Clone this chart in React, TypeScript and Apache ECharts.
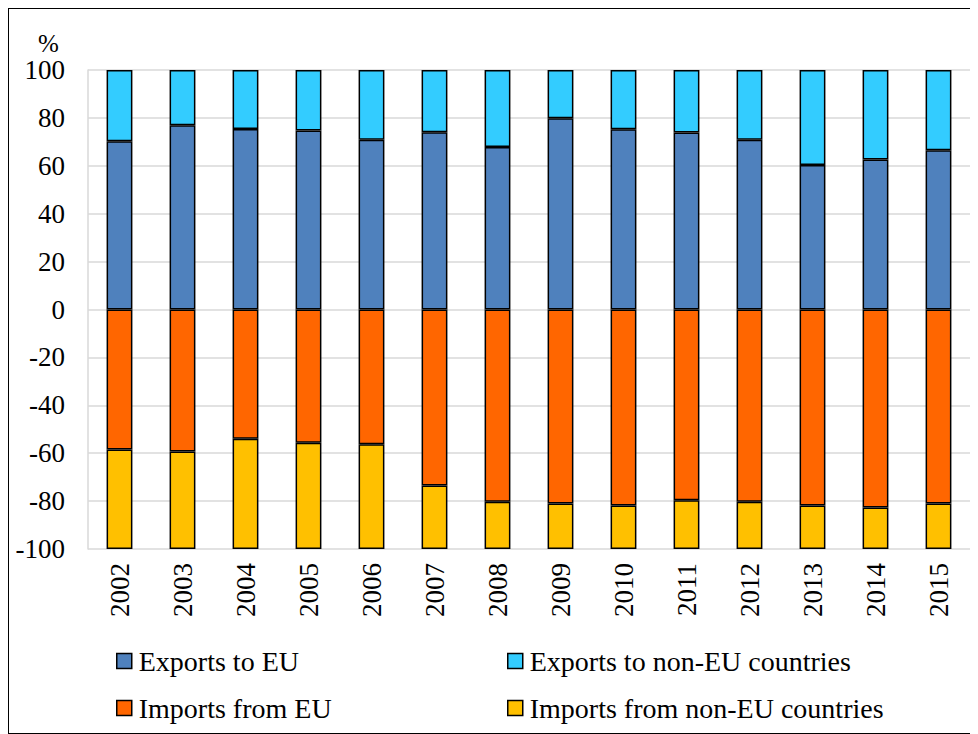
import React, { useEffect, useRef } from "react";
import * as echarts from "echarts";

const years = ["2002","2003","2004","2005","2006","2007","2008","2009","2010","2011","2012","2013","2014","2015"];
const exportsEU = [70.2, 76.9, 75.4, 74.7, 70.9, 74.0, 67.8, 79.9, 75.3, 73.9, 70.9, 60.3, 62.6, 66.5];
const exportsNonEU = [29.8, 23.1, 24.6, 25.3, 29.1, 26.0, 32.2, 20.1, 24.7, 26.1, 29.1, 39.7, 37.4, 33.5];
const importsEU = [-58.5, -59.3, -54.0, -55.6, -56.3, -73.5, -80.3, -81.0, -81.8, -79.6, -80.3, -81.8, -82.7, -81.0];
const importsNonEU = [-41.5, -40.7, -46.0, -44.4, -43.7, -26.5, -19.7, -19.0, -18.2, -20.4, -19.7, -18.2, -17.3, -19.0];
const yTicks = [-100, -80, -60, -40, -20, 0, 20, 40, 60, 80, 100];

const names = ["Exports to EU", "Exports to non-EU countries", "Imports from EU", "Imports from non-EU countries"];
const colors = ["#4f81bd", "#33ccff", "#ff6600", "#ffc000"];
const FONT = "Liberation Serif, DejaVu Serif, serif";

export default function App() {
  const ref = useRef<HTMLDivElement>(null);
  useEffect(() => {
    const chart = echarts.init(ref.current!, null, { renderer: "svg" });
    const datas = [exportsEU, exportsNonEU, importsEU, importsNonEU];
    const legendPos = [
      { left: 107, top: 638 },
      { left: 498, top: 638 },
      { left: 107, top: 685 },
      { left: 498, top: 685 },
    ];
    chart.setOption({
      animation: false,
      textStyle: { fontFamily: FONT },
      grid: { left: 79, right: 7, top: 61, bottom: 184, containLabel: false },
      legend: names.map((n, i) => ({
        data: [n],
        left: legendPos[i].left,
        top: legendPos[i].top,
        padding: 0,
        itemWidth: 15,
        itemHeight: 15,
        icon: "rect",
        itemStyle: { borderColor: "#000", borderWidth: 1.5 },
        textStyle: { fontFamily: FONT, fontSize: 28, color: "#000", padding: [0, 0, 0, 2] },
        selectedMode: false,
      })),
      graphic: [
        { type: "text", left: 29, top: 22, style: { text: "%", fontFamily: FONT, fontSize: 25, fill: "#000" } },
      ],
      xAxis: {
        type: "category",
        data: years,
        axisLine: { show: false },
        axisTick: { show: false },
        axisLabel: { rotate: 90, fontSize: 27, color: "#000", fontFamily: FONT, margin: 14 },
      },
      yAxis: {
        type: "value",
        min: yTicks[0],
        max: yTicks[yTicks.length - 1],
        interval: 20,
        axisLine: { show: true, lineStyle: { color: "#d9d9d9", width: 1.5 } },
        axisTick: { show: false },
        splitLine: { lineStyle: { color: "#d9d9d9", width: 1.5 } },
        axisLabel: { fontSize: 27, color: "#000", fontFamily: FONT, margin: 23 },
      },
      series: names.map((n, i) => ({
        name: n,
        type: "bar",
        stack: "total",
        barWidth: "41%",
        data: datas[i],
        itemStyle: { color: colors[i], borderColor: "#000", borderWidth: 1.5 },
      })),
    });
    return () => chart.dispose();
  }, []);
  return (
    <div
      ref={ref}
      style={{ width: 970, height: 726, border: "1.5px solid #000", boxSizing: "border-box", background: "#fff" }}
    />
  );
}
